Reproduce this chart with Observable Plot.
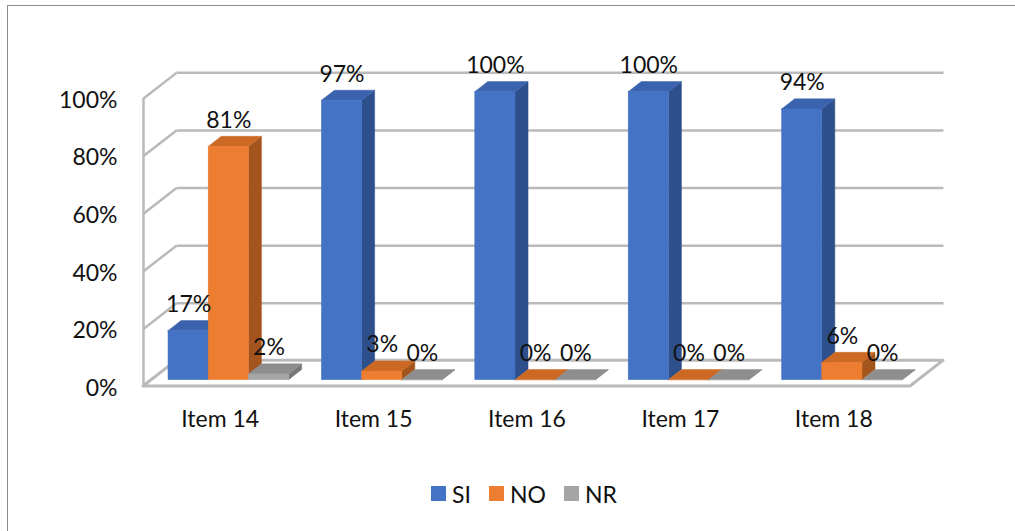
<!DOCTYPE html>
<html>
<head>
<meta charset="utf-8">
<script src="https://cdn.jsdelivr.net/npm/d3@7"></script>
<script src="https://cdn.jsdelivr.net/npm/@observablehq/plot@0.6"></script>
<style>
  html, body { margin: 0; padding: 0; background: #fff; }
  body { width: 1015px; height: 531px; position: relative; overflow: hidden; font-family: Lato, "Open Sans", sans-serif; }
  #frame { position: absolute; left: 7px; top: 5px; width: 1020px; height: 540px; border: 1.5px solid #8c8c8c; box-sizing: border-box; }
  #chart { position: absolute; left: 0; top: 0; }
  #legend { position: absolute; left: 431px; top: 477px; }
  .lg-swatch { margin-right: 18px !important; }
  .lg-swatch > svg { margin-right: 6px !important; }
</style>
</head>
<body>
<div id="frame"></div>
<div id="chart"></div>
<div id="legend"></div>
<script>
// Survey answers per item, in percent
const categories = ["Item 14", "Item 15", "Item 16", "Item 17", "Item 18"];
const series = ["SI", "NO", "NR"];
const si = [17, 97, 100, 100, 94];
const no = [81, 3, 0, 0, 6];
const nr = [2, 0, 0, 0, 0];
const yTicks = [0, 20, 40, 60, 80, 100];

const values = [si, no, nr];
const frontColors = ["#4472C4", "#ED7D31", "#A5A5A5"];
const topColors = ["#3B63AD", "#CC6A25", "#8E8E8E"];
const sideColors = ["#2D4F8C", "#A4541D", "#767676"];

// Oblique 3D geometry, in data units (x: one unit per category, y: percent)
const WALL_DX = 0.215, WALL_DY = 8.9;   // depth of the floor / back wall
const OFF_X = 0.05, OFF_Y = 2.2;        // plane in which the bars stand
const PAD = 0.113, BW = 0.262;          // left padding and bar width within a category
const BX = 0.085, BY = 3.5;             // depth of each bar

const bars = [];
categories.forEach((c, i) => {
  series.forEach((s, j) => {
    const x0 = i + OFF_X + PAD + j * BW;
    bars.push({id: `${i}-${j}`, c, s, j, v: values[j][i], x0, x1: x0 + BW});
  });
});

const sideData = bars.flatMap(b => [
  {id: b.id, s: b.s, x: b.x1, y1: OFF_Y, y2: b.v + OFF_Y},
  {id: b.id, s: b.s, x: b.x1 + BX, y1: OFF_Y + BY, y2: b.v + OFF_Y + BY}
]);
const topData = bars.flatMap(b => [
  {id: b.id, s: b.s, y: b.v + OFF_Y, x1: b.x0, x2: b.x1},
  {id: b.id, s: b.s, y: b.v + OFF_Y + BY, x1: b.x0 + BX, x2: b.x1 + BX}
]);
const floor = [
  {y: 0, x1: 0, x2: categories.length},
  {y: WALL_DY, x1: WALL_DX, x2: categories.length + WALL_DX}
];

const gridColor = "#bababa";

const marks = [
  // left wall: front edge and receding tick lines
  Plot.ruleX([0], {y1: 0, y2: 100, stroke: gridColor, strokeWidth: 2.5}),
  Plot.link(yTicks, {x1: 0, y1: d => d, x2: WALL_DX, y2: d => d + WALL_DY, stroke: gridColor, strokeWidth: 2.5}),
  // back wall gridlines
  Plot.link(yTicks, {x1: WALL_DX, y1: d => d + WALL_DY, x2: categories.length + WALL_DX, y2: d => d + WALL_DY, stroke: gridColor, strokeWidth: 2.5}),
  // floor
  Plot.areaX(floor, {y: "y", x1: "x1", x2: "x2", fill: "white", stroke: gridColor, strokeWidth: 3}),
  // bar side faces
  ...series.map((s, j) => Plot.areaY(sideData.filter(d => d.s === s), {x: "x", y1: "y1", y2: "y2", z: "id", fill: sideColors[j], stroke: sideColors[j], strokeWidth: 0.5})),
  // bar top faces
  ...series.map((s, j) => Plot.areaX(topData.filter(d => d.s === s), {y: "y", x1: "x1", x2: "x2", z: "id", fill: topColors[j], stroke: topColors[j], strokeWidth: 0.5})),
  // bar front faces
  Plot.rect(bars, {x1: "x0", x2: "x1", y1: () => OFF_Y, y2: d => d.v + OFF_Y, fill: "s", stroke: "s", strokeWidth: 0.5}),
  // value labels
  Plot.text(bars, {x: d => (d.x0 + d.x1) / 2, y: d => d.v + OFF_Y + BY, text: d => `${d.v}%`, dy: -9, lineAnchor: "bottom", fontSize: 23, fill: "#111"}),
  // axes
  Plot.axisY({ticks: yTicks, tickFormat: d => `${d}%`, tickSize: 0, tickPadding: 26, fontSize: 23, dy: 2}),
  Plot.axisX({ticks: categories.map((_, i) => i + 0.5), tickFormat: d => categories[Math.floor(d)], tickSize: 0, tickPadding: 24, fontSize: 23})
];

const chart = Plot.plot({
  width: 1015,
  height: 450,
  marginLeft: 143,
  marginRight: 105,
  marginTop: 98,
  marginBottom: 64,
  x: {domain: [0, categories.length], label: null},
  y: {domain: [0, 100], label: null},
  color: {domain: series, range: frontColors},
  style: {fontFamily: "Lato, 'Open Sans', sans-serif", color: "#111", background: "transparent", overflow: "visible"},
  marks
});
document.getElementById("chart").append(chart);

const legend = Plot.legend({
  color: {domain: series, range: frontColors},
  legend: "swatches",
  swatchSize: 15,
  className: "lg",
  style: {fontFamily: "Lato, 'Open Sans', sans-serif", fontSize: "23px", color: "#111"}
});
document.getElementById("legend").append(legend);
</script>
</body>
</html>
